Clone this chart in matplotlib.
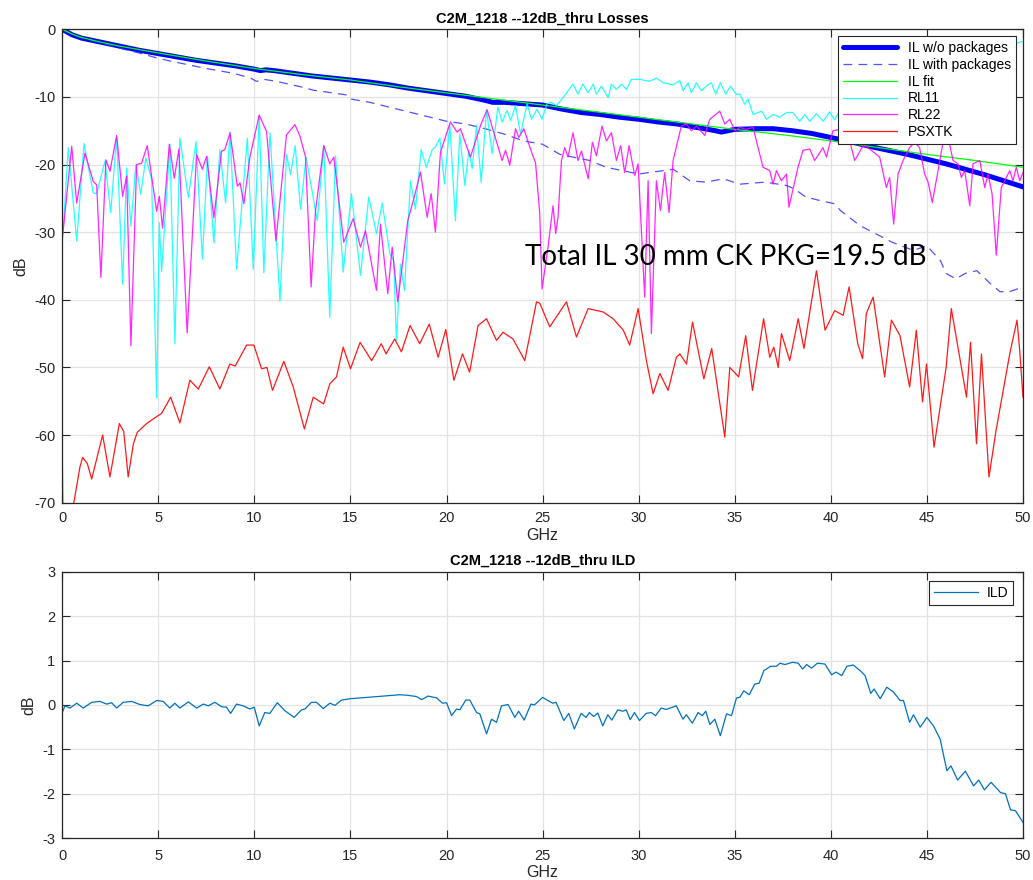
import matplotlib
matplotlib.use("Agg")
import matplotlib.pyplot as plt

plt.rcParams['font.family'] = ['Liberation Sans', 'DejaVu Sans']
plt.rcParams['axes.unicode_minus'] = False

# ---------------- data ----------------
il_wo_f = [0, 0.5, 1, 2, 3, 4, 5, 6, 7, 8, 9, 10, 10.3, 10.6, 11, 12, 13, 14, 15, 16, 17, 18, 19, 20,
           21, 22, 22.4, 23, 24, 25, 26, 27, 28, 29, 30, 31, 32, 33, 34, 34.3, 35, 36, 37, 38, 39, 40,
           41, 42, 43, 44, 45, 46, 47, 48, 49, 50]
il_wo_db = [0, -0.8, -1.3, -1.9, -2.5, -3.1, -3.6, -4.1, -4.6, -5.0, -5.4, -5.9, -6.1, -6.0, -6.1, -6.5,
            -6.9, -7.2, -7.5, -7.8, -8.2, -8.7, -9.1, -9.5, -9.9, -10.5, -10.8, -10.8, -11.0, -11.2,
            -11.8, -12.3, -12.6, -13.0, -13.3, -13.7, -14.0, -14.5, -15.0, -15.2, -14.8, -14.7, -14.7,
            -15.0, -15.4, -16.0, -16.6, -17.3, -17.9, -18.5, -19.2, -19.9, -20.7, -21.5, -22.4, -23.3]

il_pkg_f = [0, 1, 2, 3, 4, 5, 5.8, 7.5, 8.9, 9.8, 10.1, 10.5, 11.15, 12.4, 13.06, 14.8, 15, 16, 17, 18,
            19, 20, 21, 22, 23, 24, 25, 25.9, 27.45, 28.3, 30, 31.8, 32.65, 33.5, 34.4, 35.25, 36.6,
            37.7, 38.1, 38.7, 39.4, 40.2, 40.5, 41.5, 43.2, 44.3, 45, 45.7, 46, 46.5, 47, 47.6, 48.3,
            48.8, 49.3, 50]
il_pkg_db = [0, -1.3, -2.0, -2.8, -3.5, -4.3, -4.8, -5.8, -6.5, -7.2, -7.7, -7.4, -7.7, -8.5, -9.0,
             -9.7, -10.3, -10.8, -11.5, -12.2, -12.9, -13.6, -14.0, -14.7, -15.5, -16.5, -17.0, -18.5,
             -19.4, -20.4, -21.4, -20.7, -22.4, -22.6, -22.1, -22.9, -22.6, -23.1, -23.6, -24.8, -25.3,
             -25.8, -26.8, -29.0, -31.5, -32.7, -32.0, -34.2, -36.1, -36.9, -36.1, -35.7, -37.6, -38.8,
             -38.8, -38.1]

il_fit_f = [0, 0.5, 1, 2, 3, 5, 7.5, 10, 12.5, 15, 17.5, 20, 22.5, 25, 27.5, 30, 32.5, 35, 37.5, 40,
            42.5, 45, 47.5, 50]
il_fit_db = [0, -0.7, -1.2, -1.9, -2.5, -3.5, -4.7, -5.8, -6.7, -7.5, -8.5, -9.4, -10.3, -11.2, -12.1,
             -13.0, -13.9, -14.8, -15.6, -16.5, -17.5, -18.5, -19.4, -20.4]

rl11_f = [0.0, 0.05, 0.31, 0.75, 1.13, 1.61, 1.79, 2.22, 2.52, 2.83, 3.14, 3.35, 3.57, 3.83, 4.08, 4.35,
          4.65, 4.91, 5.05, 5.17, 5.6, 5.86, 6.12, 6.56, 6.96, 7.29, 7.56, 7.89, 8.2, 8.5, 8.73, 9.07,
          9.63, 9.94, 10.25, 10.49, 10.81, 11.33, 11.67, 11.88, 12.12, 12.4, 12.69, 13.27, 13.61, 13.92,
          14.22, 14.62, 15.05, 15.52, 15.95, 16.35, 16.65, 17.05, 17.25, 17.39, 17.6, 17.81, 18.12,
          18.38, 18.68, 18.95, 19.25, 19.42, 19.65, 19.89, 20.17, 20.46, 20.69, 20.95, 21.16, 21.33,
          21.56, 21.8, 22.08, 22.37, 22.67, 22.89, 23.15, 23.33, 23.59, 23.85, 24.19, 24.42, 24.71,
          24.97, 25.23, 25.45, 25.72, 26.06, 26.58, 26.84, 27.1, 27.37, 27.63, 27.8, 28.06, 28.41, 28.58,
          28.84, 29.1, 29.36, 29.62, 30.05, 30.57, 30.92, 31.27, 31.79, 32.14, 32.31, 32.57, 32.74,
          33.0, 33.26, 33.52, 33.78, 34.01, 34.25, 34.53, 34.77, 35.08, 35.26, 35.52, 35.69, 35.95,
          36.4, 36.65, 37.0, 37.34, 37.69, 38.03, 38.38, 38.64, 38.9, 39.25, 39.6, 39.94, 40.2, 40.55,
          40.8, 42, 44, 46, 48, 49.4, 49.7, 50]
rl11_db = [-30.5, -29.6, -17.5, -31.3, -16.9, -24.2, -24.3, -19.5, -27.1, -15.8, -37.7, -20.5, -29.1,
           -20.0, -24.4, -19.0, -22.2, -54.5, -28.6, -35.8, -17.0, -46.5, -16.1, -24.9, -16.6, -34.0,
           -18.8, -31.6, -17.8, -25.7, -15.2, -35.5, -16.1, -35.5, -12.7, -36.0, -15.3, -40.2, -18.5,
           -21.5, -17.2, -26.6, -18.9, -28.3, -17.2, -42.6, -18.7, -35.9, -24.3, -36.4, -24.8, -30.2,
           -25.7, -33.2, -34.2, -46.0, -34.7, -38.6, -22.4, -26.6, -17.8, -20.4, -17.8, -17.4, -16.1,
           -22.9, -14.0, -28.3, -15.5, -23.1, -17.9, -20.6, -14.2, -22.6, -11.9, -18.4, -11.5, -13.7,
           -12.0, -13.5, -11.3, -15.5, -11.0, -13.3, -11.8, -13.3, -11.0, -10.8, -11.3, -10.1, -8.1,
           -9.6, -8.1, -9.4, -8.1, -9.6, -8.4, -10.1, -8.1, -8.9, -8.1, -8.9, -7.4, -7.4, -7.7, -7.2,
           -7.9, -8.2, -7.6, -9.1, -7.9, -9.4, -7.9, -9.1, -8.4, -7.9, -9.6, -7.9, -9.6, -8.4, -9.6,
           -9.6, -11.1, -10.3, -12.6, -12.1, -13.3, -12.6, -13.0, -12.3, -12.3, -13.6, -12.6, -13.6,
           -12.5, -13.6, -12.2, -13.4, -11.5, -12.3, -12.5, -11.0, -9.0, -5.0, -2.6, -2.0, -1.8]

rl22_f = [0.0, 0.49, 0.75, 1.18, 1.61, 1.79, 2.01, 2.27, 2.48, 2.83, 3.14, 3.35, 3.57, 3.87, 4.13,
          4.42, 4.91, 5.05, 5.22, 5.57, 5.83, 6.07, 6.5, 6.99, 7.29, 7.51, 7.89, 8.29, 8.46, 8.73,
          9.11, 9.25, 9.45, 9.77, 10.25, 10.63, 11.12, 11.67, 12.11, 12.37, 12.66, 12.95, 13.18, 13.61,
          13.92, 14.13, 14.65, 15.14, 15.52, 15.78, 16.35, 16.56, 16.94, 17.17, 17.46, 17.98, 18.3,
          18.64, 18.99, 19.2, 19.42, 19.68, 20.2, 20.55, 20.72, 21.24, 21.77, 22.11, 22.89, 23.07,
          23.29, 23.59, 23.76, 24.02, 24.45, 24.63, 24.85, 24.97, 25.11, 25.28, 25.54, 25.68, 25.8,
          25.98, 26.15, 26.32, 26.58, 26.84, 27.02, 27.37, 27.59, 27.8, 28.09, 28.32, 28.58, 28.84,
          29.06, 29.27, 29.5, 29.79, 29.97, 30.31, 30.49, 30.66, 30.92, 31.13, 31.35, 31.58, 31.79,
          32.22, 32.48, 32.74, 33.0, 33.44, 33.7, 34.22, 34.48, 34.74, 35.0, 35.26, 35.6, 35.95,
          36.47, 36.82, 36.99, 37.17, 37.43, 37.69, 37.82, 38.29, 38.55, 38.9, 39.16, 39.59, 39.77,
          40.11, 40.46, 40.72, 40.98, 41.24, 41.68, 41.94, 42.54, 42.89, 43.06, 43.27, 43.5, 43.76,
          44.1, 44.36, 44.62, 44.88, 45.06, 45.28, 45.58, 45.84, 46.18, 46.36, 46.62, 46.79, 46.97,
          47.23, 47.4, 47.75, 48.01, 48.18, 48.39, 48.61, 48.87, 49.31, 49.48, 49.65, 49.83, 50.0]
rl22_db = [-31.1, -17.3, -25.7, -18.3, -22.5, -23.0, -36.7, -19.3, -21.0, -15.7, -24.7, -21.7, -46.8,
           -20.0, -19.8, -17.2, -26.9, -24.7, -29.4, -17.0, -22.0, -17.7, -44.9, -18.5, -20.7, -18.8,
           -27.9, -18.0, -17.8, -15.3, -23.2, -22.7, -25.8, -18.8, -12.7, -15.1, -31.3, -15.6, -14.1,
           -15.8, -18.9, -38.1, -26.8, -17.2, -19.9, -18.9, -31.5, -28.0, -32.2, -29.8, -38.6, -28.8,
           -39.1, -32.2, -40.3, -28.3, -25.0, -21.1, -27.8, -24.3, -30.0, -18.2, -13.7, -15.2, -14.7,
           -18.9, -14.2, -11.9, -19.4, -17.9, -20.1, -14.7, -16.0, -14.7, -18.4, -19.7, -27.3, -38.4,
           -35.6, -32.2, -26.1, -30.2, -27.8, -19.4, -17.5, -18.9, -15.3, -19.4, -18.0, -22.1, -16.7,
           -18.7, -14.3, -16.5, -15.3, -19.4, -17.2, -21.2, -17.2, -21.6, -19.9, -39.6, -22.4, -45.0,
           -22.4, -26.8, -21.2, -27.1, -19.4, -14.3, -14.0, -15.0, -14.3, -15.7, -13.3, -12.1, -14.0,
           -13.3, -15.0, -14.5, -14.8, -14.5, -20.4, -20.9, -22.9, -20.9, -22.4, -21.4, -26.3, -20.4,
           -17.9, -17.7, -19.4, -17.5, -18.9, -15.0, -14.8, -17.0, -16.5, -19.4, -17.2, -17.5, -18.9,
           -23.4, -21.9, -28.8, -21.4, -19.4, -17.5, -16.7, -17.5, -21.4, -22.6, -25.6, -20.9, -16.7,
           -17.0, -19.4, -19.9, -21.9, -20.9, -26.1, -19.9, -19.4, -23.4, -21.4, -24.3, -33.4, -23.4,
           -20.9, -22.4, -20.4, -22.4, -21.2]

psxtk_f = [0, 0.03, 0.5, 0.6, 0.92, 1.06, 1.3, 1.53, 2.1, 2.48, 2.97, 3.2, 3.43, 3.7, 3.9, 4.39, 4.9,
           5.17, 5.64, 6.12, 6.64, 7.08, 7.65, 8.2, 8.72, 9.0, 9.59, 9.97, 10.37, 10.65, 10.94, 11.53,
           12.02, 12.6, 13.06, 13.6, 13.93, 14.27, 14.62, 15.0, 15.5, 16.1, 16.6, 16.85, 17.3, 17.65,
           18.1, 18.6, 19.1, 19.56, 19.96, 20.38, 20.83, 21.2, 21.64, 22.08, 22.6, 22.94, 23.46, 24.07,
           24.68, 24.85, 25.37, 26.24, 26.76, 27.37, 28.15, 28.67, 29.2, 29.53, 29.97, 30.4, 30.75,
           31.1, 31.53, 31.96, 32.14, 32.49, 32.8, 33.39, 33.8, 34.48, 34.74, 35.2, 35.57, 35.92, 36.5,
           36.82, 37.03, 37.26, 37.43, 37.86, 38.3, 38.6, 39.25, 39.7, 40.2, 40.64, 40.95, 41.4, 41.65,
           41.85, 42.2, 42.8, 43.15, 43.6, 44.1, 44.45, 44.77, 44.98, 45.37, 46.0, 46.27, 47.06, 47.27,
           47.58, 47.84, 48.23, 48.6, 49.31, 49.69, 49.83, 50.0]
psxtk_db = [-62.8, -72, -72, -70, -64.7, -63.3, -64.2, -66.5, -60.0, -66.2, -58.3, -59.5, -66.2, -61.3,
            -59.6, -58.3, -57.3, -56.8, -54.4, -58.2, -51.9, -53.2, -49.9, -53.2, -49.5, -49.8, -46.7,
            -46.7, -50.2, -50.0, -53.4, -49.1, -52.9, -59.1, -54.4, -55.4, -52.4, -51.4, -47.0, -50.2,
            -46.3, -49.0, -46.5, -48.0, -45.8, -47.7, -43.8, -46.5, -43.6, -48.5, -44.4, -51.9, -48.0,
            -50.7, -43.8, -42.8, -46.0, -44.8, -45.8, -49.0, -40.3, -40.5, -44.0, -40.3, -45.5, -41.3,
            -41.8, -42.8, -44.5, -46.7, -41.3, -49.0, -53.9, -50.9, -53.4, -48.5, -48.0, -49.5, -43.3,
            -51.7, -47.2, -60.3, -50.0, -51.4, -45.3, -53.4, -42.8, -48.5, -47.0, -50.0, -45.0, -49.0,
            -42.8, -47.2, -35.7, -44.5, -41.6, -42.3, -38.1, -46.5, -48.7, -42.0, -39.6, -51.4, -43.0,
            -45.3, -52.9, -44.5, -55.1, -49.5, -61.8, -50.0, -41.3, -54.4, -46.3, -61.3, -48.0, -66.2,
            -59.3, -48.0, -43.0, -47.5, -54.4]

ild_f = [0, 0.14, 0.4, 0.75, 1.09, 1.53, 1.96, 2.31, 2.57, 2.83, 3.17, 3.61, 4.04, 4.47, 4.91, 5.25,
         5.6, 5.86, 6.12, 6.56, 6.99, 7.34, 7.6, 7.94, 8.29, 8.55, 8.76, 9.07, 9.42, 9.76, 9.99, 10.25,
         10.54, 10.8, 11.19, 11.59, 12.07, 12.45, 12.63, 12.97, 13.23, 13.58, 13.93, 14.19, 14.53,
         14.97, 15.83, 16.7, 17.57, 17.92, 18.44, 18.7, 19.04, 19.48, 19.79, 20.0, 20.26, 20.52, 20.69,
         21.0, 21.21, 21.56, 21.73, 22.08, 22.34, 22.6, 22.86, 23.2, 23.55, 23.75, 24.04, 24.39, 24.57,
         25.0, 25.52, 25.7, 26.1, 26.36, 26.65, 27.0, 27.26, 27.43, 27.66, 27.87, 28.13, 28.39, 28.6,
         28.91, 29.17, 29.35, 29.56, 29.78, 30.04, 30.39, 30.65, 30.88, 31.17, 31.43, 31.96, 32.3,
         32.48, 32.79, 33.09, 33.31, 33.49, 33.7, 33.96, 34.25, 34.57, 34.83, 35.09, 35.26, 35.47,
         35.75, 36.04, 36.27, 36.51, 36.86, 37.17, 37.35, 37.61, 38.01, 38.3, 38.53, 38.74, 39.0, 39.3,
         39.7, 40.04, 40.27, 40.57, 40.83, 41.17, 41.61, 41.78, 42.08, 42.25, 42.57, 42.91, 43.26,
         43.61, 43.78, 44.1, 44.3, 44.65, 45.0, 45.34, 45.69, 46.04, 46.25, 46.6, 47.0, 47.43, 47.7,
         47.99, 48.34, 48.83, 49.09, 49.35, 49.61, 50.0]
ild_db = [-0.17, -0.02, -0.07, 0.04, -0.07, 0.06, 0.08, 0.02, 0.05, -0.07, 0.06, 0.08, 0.01, -0.02,
          0.10, 0.08, -0.07, 0.04, -0.07, 0.07, -0.07, 0.02, -0.02, 0.06, -0.04, -0.05, -0.19, 0.02,
          -0.02, -0.09, -0.05, -0.47, -0.17, -0.19, 0.05, -0.13, -0.28, -0.11, -0.09, 0.06, 0.06, -0.08,
          0.04, -0.01, 0.11, 0.14, 0.17, 0.20, 0.23, 0.22, 0.19, 0.12, 0.20, 0.16, 0.04, 0.05, -0.24,
          -0.09, -0.11, 0.11, 0.11, -0.17, -0.20, -0.65, -0.32, -0.39, -0.02, 0.01, -0.28, -0.14,
          -0.34, 0.02, 0.0, 0.17, 0.04, 0.06, -0.35, -0.19, -0.54, -0.19, -0.28, -0.17, -0.26, -0.18,
          -0.47, -0.22, -0.34, -0.11, -0.14, -0.11, -0.33, -0.17, -0.35, -0.19, -0.17, -0.24, -0.07,
          -0.10, -0.02, -0.32, -0.22, -0.41, -0.17, -0.24, -0.14, -0.44, -0.32, -0.69, -0.20, -0.24,
          0.16, 0.17, 0.32, 0.23, 0.47, 0.49, 0.77, 0.87, 0.87, 0.94, 0.91, 0.96, 0.94, 0.81, 0.91,
          0.83, 0.94, 0.92, 0.68, 0.74, 0.66, 0.87, 0.90, 0.74, 0.66, 0.26, 0.36, 0.14, 0.40, 0.29,
          0.10, 0.10, -0.39, -0.22, -0.50, -0.28, -0.47, -0.77, -1.48, -1.37, -1.69, -1.49, -1.82,
          -1.69, -1.91, -1.74, -1.97, -2.0, -2.36, -2.38, -2.64]

x_ticks = [0, 5, 10, 15, 20, 25, 30, 35, 40, 45, 50]
top_yticks = [0, -10, -20, -30, -40, -50, -60, -70]
bot_yticks = [3, 2, 1, 0, -1, -2, -3]
series_labels = ['IL w/o packages', 'IL with packages', 'IL fit', 'RL11', 'RL22', 'PSXTK']
top_title = 'C2M_1218 --12dB_thru Losses'
bot_title = 'C2M_1218 --12dB_thru ILD'
note_text = 'Total IL 30 mm CK PKG=19.5 dB'

# ---------------- figure ----------------
TXT = '#262626'
GRID = '#e3e3e3'
fig = plt.figure(figsize=(10.33, 8.8), dpi=100)
ax1 = fig.add_axes([0.0603, 0.4288, 0.9300, 0.5379])
ax2 = fig.add_axes([0.0603, 0.0474, 0.9300, 0.3030])


def style(ax, pad):
    ax.grid(True, color=GRID, linewidth=0.9)
    ax.set_axisbelow(True)
    ax.tick_params(direction='in', top=True, right=True, length=6, width=0.8,
                   colors=TXT, labelsize=10.5, pad=5)
    ax.tick_params(axis='x', pad=pad)
    for s in ax.spines.values():
        s.set_color(TXT)
        s.set_linewidth(0.9)


ax1.plot(il_wo_f, il_wo_db, color='#0000ff', lw=3.6, label=series_labels[0], solid_capstyle='round')
ax1.plot(il_pkg_f, il_pkg_db, color='#3333ff', lw=0.9, ls=(0, (7, 5)), alpha=0.85, label=series_labels[1])
ax1.plot(il_fit_f, il_fit_db, color='#00ff00', lw=0.9, label=series_labels[2])
ax1.plot(rl11_f, rl11_db, color='#00ffff', lw=0.9, alpha=0.85, label=series_labels[3])
ax1.plot(rl22_f, rl22_db, color='#ff00ff', lw=0.9, alpha=0.85, label=series_labels[4])
ax1.plot(psxtk_f, psxtk_db, color='#ff0000', lw=0.9, alpha=0.9, label=series_labels[5])
ax1.set_xlim(0, 50)
ax1.set_ylim(-70, 0)
ax1.set_xticks(x_ticks)
ax1.set_yticks(top_yticks)
style(ax1, 6)
ax1.set_xlabel('GHz', fontsize=11.5, color=TXT, labelpad=2)
ax1.set_ylabel('dB', fontsize=11.5, color=TXT, labelpad=4)
ax1.set_title(top_title, fontsize=10.5, fontweight='bold', color='black', pad=5)
leg1 = ax1.legend(loc='upper right', fontsize=10, frameon=True, fancybox=False, framealpha=1,
                  edgecolor=TXT, handlelength=3.9, borderpad=0.35, labelspacing=0.2,
                  handletextpad=0.8, borderaxespad=0.5)
leg1.get_frame().set_linewidth(0.8)
leg1.set_zorder(10)
ax1.text(24.07, -33.7, note_text, fontsize=20, family=['Lato', 'DejaVu Sans'],
         color='black', va='center', ha='left')

ax2.plot(ild_f, ild_db, color='#0072bd', lw=0.9, label='ILD')
ax2.set_xlim(0, 50)
ax2.set_ylim(-3, 3)
ax2.set_xticks(x_ticks)
ax2.set_yticks(bot_yticks)
style(ax2, 8)
ax2.set_xlabel('GHz', fontsize=11.5, color=TXT, labelpad=1)
ax2.set_ylabel('dB', fontsize=11.5, color=TXT, labelpad=4)
ax2.set_title(bot_title, fontsize=10.5, fontweight='bold', color='black', pad=5)
leg2 = ax2.legend(loc='upper right', fontsize=10, frameon=True, fancybox=False, framealpha=1,
                  edgecolor=TXT, handlelength=3.2, borderpad=0.35, handletextpad=0.6,
                  borderaxespad=0.7)
leg2.get_frame().set_linewidth(0.8)

fig.savefig('out.png', dpi=100)
